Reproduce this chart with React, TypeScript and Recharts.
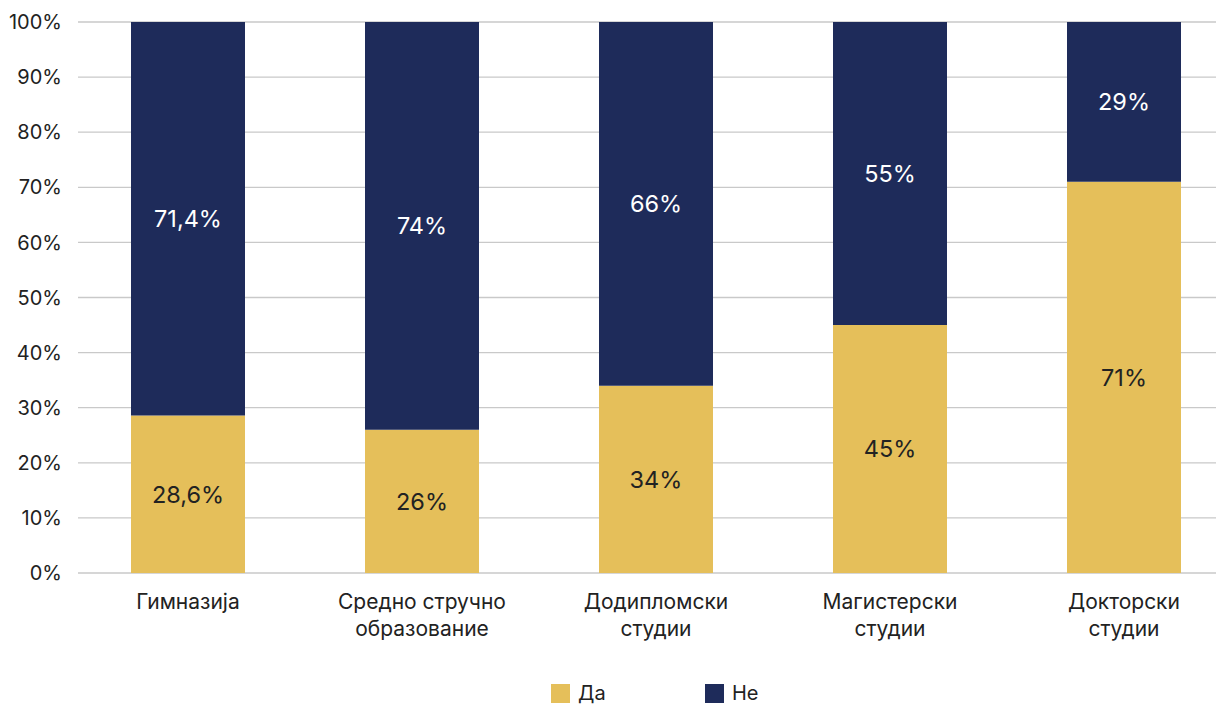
import React from "react";
import { BarChart, Bar, XAxis, YAxis, CartesianGrid, LabelList } from "recharts";

const categories = ["Гимназија", "Средно стручно\nобразование", "Додипломски\nстудии", "Магистерски\nстудии", "Докторски\nстудии"];
const yesValues = [28.6, 26, 34, 45, 71];
const noValues = [71.4, 74, 66, 55, 29];
const yTicks = [0, 10, 20, 30, 40, 50, 60, 70, 80, 90, 100];
const seriesNames = ["Да", "Не"];

const YELLOW = "#E5BF5A";
const NAVY = "#1E2B5A";
const FONT = "Inter, 'Noto Sans', sans-serif";
const TEXT = "#222222";

const data = categories.map((c, i) => ({ name: c, yes: yesValues[i], no: noValues[i] }));

const fmt = (v: any) => `${String(v).replace(".", ",")}%`;

const XTick = (props: any) => {
  const { x, y, payload } = props;
  const lines = String(payload.value).split("\n");
  return (
    <text x={x} y={y} textAnchor="middle" fill={TEXT} fontSize={21} fontFamily={FONT}>
      {lines.map((l, i) => (
        <tspan key={i} x={x} dy={i === 0 ? 28 : 27}>{l}</tspan>
      ))}
    </text>
  );
};

const GridLine = (props: any) => {
  const { x1, x2, y1, y2 } = props;
  return <line x1={x1 + 7} x2={x2} y1={y1} y2={y2} stroke="#c9c9c9" strokeWidth={1.3} />;
};

export default function App() {
  return (
    <div style={{ width: 1216, height: 698, overflow: "hidden", position: "relative", background: "#fff" }}>
      <BarChart width={1233} height={690} data={data} margin={{ top: 14, right: 0, left: 0, bottom: 45 }} barSize={114}>
        <CartesianGrid vertical={false} horizontal={GridLine as any} />
        <XAxis dataKey="name" axisLine={false} tickLine={false} interval={0} height={80} tick={<XTick />} />
        <YAxis
          domain={[0, 100]}
          ticks={yTicks}
          width={63}
          axisLine={false}
          tickLine={false}
          tickMargin={3}
          tickFormatter={(v) => `${v}%`}
          tick={{ fill: TEXT, fontSize: 20, fontFamily: FONT }}
        />
        <Bar dataKey="yes" stackId="a" fill={YELLOW} isAnimationActive={false}>
          <LabelList dataKey="yes" position="center" formatter={fmt} fill={TEXT} fontSize={23.5} fontFamily={FONT} />
        </Bar>
        <Bar dataKey="no" stackId="a" fill={NAVY} isAnimationActive={false}>
          <LabelList dataKey="no" position="center" formatter={fmt} fill="#ffffff" fontSize={23.5} fontFamily={FONT} />
        </Bar>
      </BarChart>
      <div style={{ position: "absolute", left: 543, top: 674, display: "flex", fontFamily: FONT, fontSize: 20, color: TEXT, lineHeight: "22px" }}>
        {seriesNames.map((n, i) => (
          <div key={n} style={{ width: 154, display: "flex", alignItems: "center" }}>
            <span style={{ width: 19, height: 19, background: i === 0 ? YELLOW : NAVY, display: "inline-block", marginRight: 8 }} />
            <span>{n}</span>
          </div>
        ))}
      </div>
    </div>
  );
}
